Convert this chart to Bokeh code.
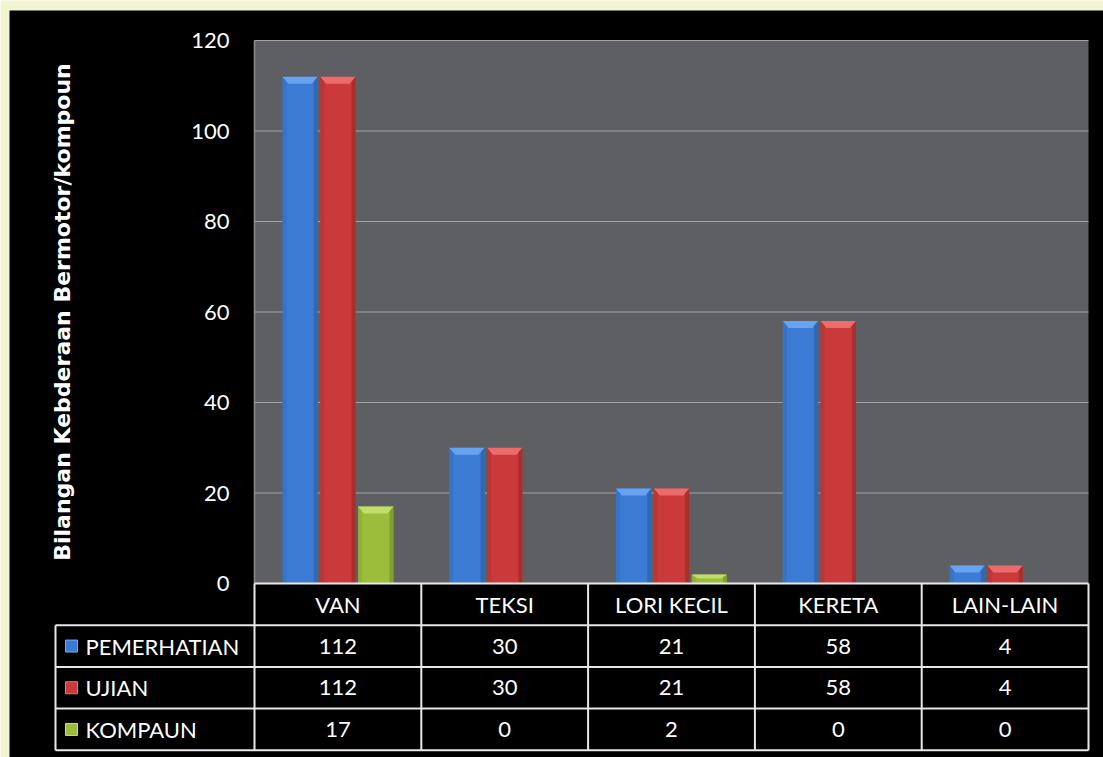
import math
from bokeh.plotting import figure
from bokeh.models import ColumnDataSource, Range1d
from bokeh.core.properties import value
from bokeh.embed import file_html
from bokeh.resources import INLINE

# ---------------- data ----------------
categories = ["VAN", "TEKSI", "LORI KECIL", "KERETA", "LAIN-LAIN"]
series_names = ["PEMERHATIAN", "UJIAN", "KOMPAUN"]
pemerhatian = [112, 30, 21, 58, 4]
ujian = [112, 30, 21, 58, 4]
kompaun = [17, 0, 2, 0, 0]
y_ticks = [0, 20, 40, 60, 80, 100, 120]
y_title = "Bilangan Kebderaan Bermotor/kompoun"

# ---------------- style ----------------
FONT = "Lato"
CREAM = "#F5F4D0"
BLACK = "#000000"
PLOT_GRAY = "#5e5f63"
GRID = "#a3a3a3"
LINE = "#e8e8e8"
main_cols = ["#3b7bd3", "#cb3a3b", "#9cbd3b"]
light_cols = ["#70aaf4", "#f27575", "#c8e475"]
dark_cols = ["#2b5ba3", "#932828", "#6f8b27"]

# layout (pixel geometry of the reference); the frame covers the whole canvas
W, H = 1103, 757
PX_CAT = 166.8          # px per category
PX_UNIT = 543.0 / 120   # px per value unit
X0_PX, Y0_PX = 254, 583  # pixel position of (0, 0)
x_start = -X0_PX / PX_CAT
x_end = x_start + W / PX_CAT
y_end = (Y0_PX) / PX_UNIT
y_start = y_end - H / PX_UNIT
row_h = 41.7 / PX_UNIT


def xpx(px):
    return (px - X0_PX) / PX_CAT


def ypx(py):
    return (Y0_PX - py) / PX_UNIT


leg_left = xpx(55)

p = figure(width=W, height=H, output_backend="svg", toolbar_location=None,
           x_range=Range1d(x_start, x_end), y_range=Range1d(y_start, y_end),
           x_axis_location=None, y_axis_location=None,
           min_border_left=0, min_border_right=0, min_border_top=0,
           min_border_bottom=0)
p.background_fill_color = CREAM
p.border_fill_color = CREAM
p.outline_line_color = None
p.grid.visible = False

n = len(categories)
ymax = y_ticks[-1]

# black panel
p.quad(left=[xpx(9)], right=[x_end + 1], bottom=[y_start - 5], top=[ypx(10)],
       fill_color=BLACK, line_color=None)

# plot area
p.quad(left=[0], right=[n], bottom=[0], top=[ymax], fill_color=PLOT_GRAY, line_color=None)
gy = [t for t in y_ticks if t > 0]
p.segment(x0=[0] * len(gy), x1=[n] * len(gy), y0=gy, y1=gy, line_color=GRID, line_width=1.2)
p.segment(x0=[0], x1=[0], y0=[0], y1=[ymax], line_color="#8c8c8c", line_width=1.5)

# bars
offsets = [-0.227, 0.0, 0.227]
bw = 0.212
cap = 7 / PX_UNIT
dx = 6 / PX_CAT
edge = 4 / PX_CAT
for si, vals in enumerate([pemerhatian, ujian, kompaun]):
    xs = [i + 0.5 + offsets[si] for i, v in enumerate(vals) if v > 0]
    tops = [v for v in vals if v > 0]
    src = ColumnDataSource(dict(x=xs, top=tops))
    p.vbar(x="x", top="top", bottom=0, width=bw, source=src,
           fill_color=main_cols[si], line_color=None)
    # side shading
    p.vbar(x=[x + bw / 2 - edge / 2 for x in xs], top=tops, bottom=0, width=edge,
           fill_color=dark_cols[si], fill_alpha=0.6, line_color=None)
    p.vbar(x=[x - bw / 2 + edge / 2 for x in xs], top=tops, bottom=0, width=edge,
           fill_color=dark_cols[si], fill_alpha=0.25, line_color=None)
    # top bevel
    pxs, pys = [], []
    for x, t in zip(xs, tops):
        c = min(cap, t * 0.45)
        x0, x1 = x - bw / 2, x + bw / 2
        pxs.append([x0, x1, x1 - dx, x0 + dx])
        pys.append([t, t, t - c, t - c])
    p.patches(xs=pxs, ys=pys, fill_color=light_cols[si], fill_alpha=0.85, line_color=None)

# y tick labels
p.text(x=[xpx(229)] * len(y_ticks), y=y_ticks, text=[str(t) for t in y_ticks],
       text_font=value(FONT), text_font_size=value("22px"), text_color="white",
       text_align="right", text_baseline="middle")

# y title
p.text(x=[xpx(62)], y=[ymax / 2], text=[y_title], angle=math.pi / 2,
       text_font=value("DejaVu Sans"), text_font_size=value("22px"), text_font_style="bold",
       text_color="white", text_align="center", text_baseline="middle")

# table lines
hy = [0, -row_h, -2 * row_h, -3 * row_h, -4 * row_h]
p.segment(x0=[0] + [leg_left] * 4, x1=[n] * 5, y0=hy, y1=hy, line_color=LINE, line_width=2)
vx = list(range(n + 1))
p.segment(x0=vx, x1=vx, y0=[0] * len(vx), y1=[-4 * row_h] * len(vx), line_color=LINE, line_width=2)
p.segment(x0=[leg_left], x1=[leg_left], y0=[-row_h], y1=[-4 * row_h], line_color=LINE, line_width=2)

# header (categories)
p.text(x=[i + 0.5 for i in range(n)], y=[-row_h / 2] * n, text=categories,
       text_font=value(FONT), text_font_size=value("22px"), text_color="white",
       text_align="center", text_baseline="middle")

# rows
for si, vals in enumerate([pemerhatian, ujian, kompaun]):
    yc = -row_h * (si + 1.5)
    p.text(x=[i + 0.5 for i in range(n)], y=[yc] * n, text=[str(v) for v in vals],
           text_font=value(FONT), text_font_size=value("22px"), text_color="white",
           text_align="center", text_baseline="middle")
    p.scatter(x=[xpx(71)], y=[yc], marker="square", size=12,
              fill_color=main_cols[si], line_color=light_cols[si], line_width=1)
    p.text(x=[xpx(85)], y=[yc], text=[series_names[si]],
           text_font=value(FONT), text_font_size=value("22px"), text_color="white",
           text_align="left", text_baseline="middle")

open("out.html", "w").write(file_html(p, INLINE))
